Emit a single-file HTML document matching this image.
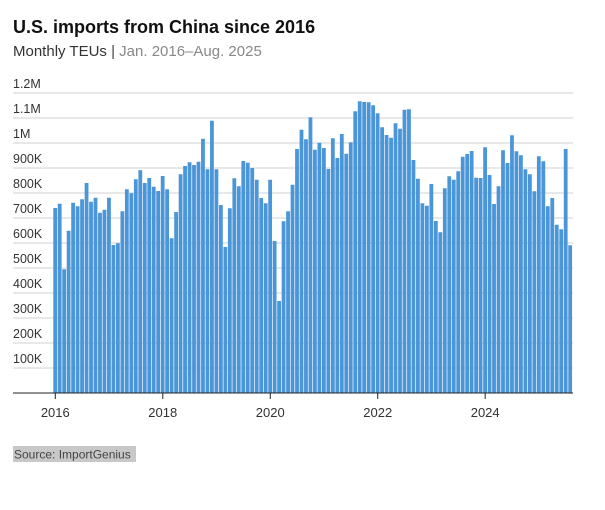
<!DOCTYPE html>
<html><head><meta charset="utf-8"><style>
body{margin:0;background:#fff;width:605px;height:505px;overflow:hidden;font-family:"Liberation Sans",sans-serif}
</style></head><body>
<svg id="c" width="605" height="505" xmlns="http://www.w3.org/2000/svg" font-family="Liberation Sans, sans-serif">
<text x="13" y="33" font-size="18" font-weight="bold" fill="#111">U.S. imports from China since 2016</text>
<text x="13" y="56" font-size="15" fill="#333">Monthly TEUs <tspan fill="#444">|</tspan> <tspan fill="#888">Jan. 2016–Aug. 2025</tspan></text>
<g id="grid"></g>
<g id="bars"></g>
<line x1="13" x2="573" y1="393" y2="393" stroke="#222" stroke-width="1"/>
<g id="ticks"></g>
<rect x="13" y="446" width="123" height="16" fill="#c8c8c8"/>
<text x="14" y="458.5" font-size="12" fill="#444">Source: ImportGenius</text>
</svg>
<script>
const ns="http://www.w3.org/2000/svg";
const vals=[740,757,495,649,761,747,775,840,765,781,721,733,
781,592,599,727,815,799,855,891,840,860,825,808,
868,815,619,724,875,908,923,912,925,1017,895,1089,
895,752,584,739,859,827,928,921,900,853,780,759,
853,608,368,687,727,833,976,1053,1015,1103,
973,1001,980,896,1019,940,1036,957,1003,1127,1167,1164,1163,1151,1119,1063,1032,1021,1079,1057,1133,1135,932,857,759,749,836,688,643,819,867,853,887,945,956,968,861,860,983,872,756,827,971,920,1031,967,951,895,875,807,947,927,747,780,673,655,976,591];
const base=393,k=0.25;
const g=document.getElementById('grid'),b=document.getElementById('bars'),t=document.getElementById('ticks');
const labs=["100K","200K","300K","400K","500K","600K","700K","800K","900K","1M","1.1M","1.2M"];
labs.forEach((l,i)=>{const y=base-(i+1)*25;
const ln=document.createElementNS(ns,'line');ln.setAttribute('x1',13);ln.setAttribute('x2',573);ln.setAttribute('y1',y);ln.setAttribute('y2',y);ln.setAttribute('stroke','#d0d0d0');g.appendChild(ln);
const tx=document.createElementNS(ns,'text');tx.setAttribute('x',13);tx.setAttribute('y',y-5);tx.setAttribute('font-size','12.5');tx.setAttribute('fill','#333');tx.textContent=l;g.appendChild(tx);});
const step=4.478;
vals.forEach((v,i)=>{const r=document.createElementNS(ns,'rect');const h=v*k;
r.setAttribute('x',(53.3+i*step).toFixed(2));r.setAttribute('y',(base-h).toFixed(2));r.setAttribute('width',3.8);r.setAttribute('height',h.toFixed(2));r.setAttribute('fill','#4a96d8');b.appendChild(r);});
[2016,2018,2020,2022,2024].forEach((yr,j)=>{const x=55.3+j*24*step;
const ln=document.createElementNS(ns,'line');ln.setAttribute('x1',x);ln.setAttribute('x2',x);ln.setAttribute('y1',393);ln.setAttribute('y2',399);ln.setAttribute('stroke','#222');t.appendChild(ln);
const tx=document.createElementNS(ns,'text');tx.setAttribute('x',x);tx.setAttribute('y',417);tx.setAttribute('font-size','13');tx.setAttribute('text-anchor','middle');tx.setAttribute('fill','#333');tx.textContent=yr;t.appendChild(tx);});
</script>
</body></html>
